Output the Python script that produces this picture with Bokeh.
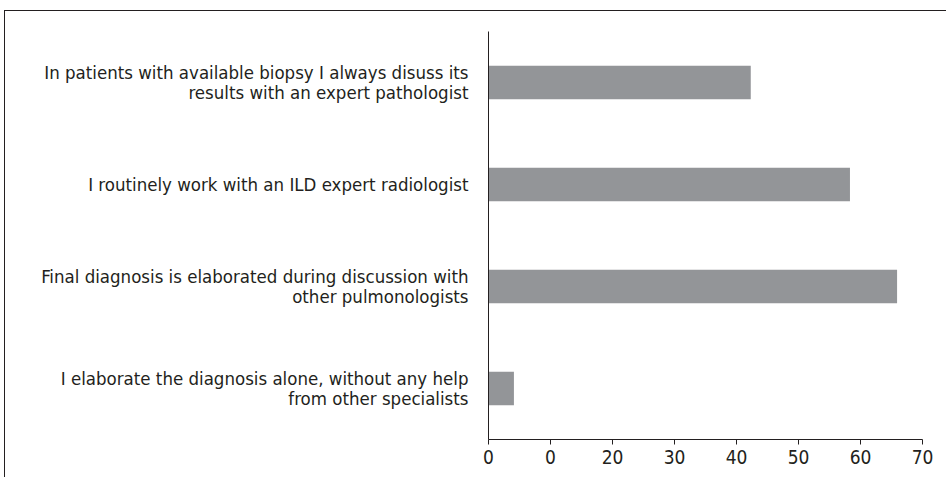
from bokeh.plotting import figure
from bokeh.models import FactorRange, Range1d, FixedTicker
from bokeh.embed import file_html
from bokeh.resources import INLINE

categories = [
    "In patients with available biopsy I always disuss its\nresults with an expert pathologist",
    "I routinely work with an ILD expert radiologist",
    "Final diagnosis is elaborated during discussion with\nother pulmonologists",
    "I elaborate the diagnosis alone, without any help\nfrom other specialists",
]
values = [42.3, 58.3, 65.9, 4.1]
tick_values = [0, 10, 20, 30, 40, 50, 60, 70]
tick_labels = ["0", "0", "20", "30", "40", "50", "60", "70"]

FONT = "'DejaVu Sans Condensed', Roboto, sans-serif"

p = figure(
    width=942, height=467,
    y_range=FactorRange(factors=list(reversed(categories))),
    x_range=Range1d(0, 70),
    output_backend="svg", toolbar_location=None,
    min_border_left=483, min_border_right=25,
    min_border_top=20, min_border_bottom=39,
)
p.styles = {"border-top": "1px solid #231f20", "border-left": "1px solid #231f20",
            "margin-top": "10px", "margin-left": "4px"}
p.outline_line_color = None
p.grid.visible = False
p.background_fill_color = "white"

p.hbar(y=categories, right=values, left=0, height=0.33,
       fill_color="#939598", line_color=None)

xa = p.xaxis[0]
xa.ticker = FixedTicker(ticks=tick_values)
xa.major_label_overrides = {v: l for v, l in zip(tick_values, tick_labels)}
xa.minor_tick_line_color = None
xa.major_tick_out = 5
xa.major_tick_in = 0
xa.axis_line_color = "#231f20"
xa.major_tick_line_color = "#231f20"
xa.major_label_text_font = FONT
xa.major_label_text_font_size = "19px"
xa.major_label_text_color = "#231f20"
xa.major_label_standoff = 5

ya = p.yaxis[0]
ya.major_tick_line_color = None
ya.minor_tick_line_color = None
ya.axis_line_color = "#231f20"
ya.major_label_text_font = FONT
ya.major_label_text_font_size = "18.5px"
ya.major_label_text_line_height = 0.92
ya.major_label_text_color = "#231f20"
ya.major_label_standoff = 14

open("out.html", "w").write(file_html(p, INLINE))
